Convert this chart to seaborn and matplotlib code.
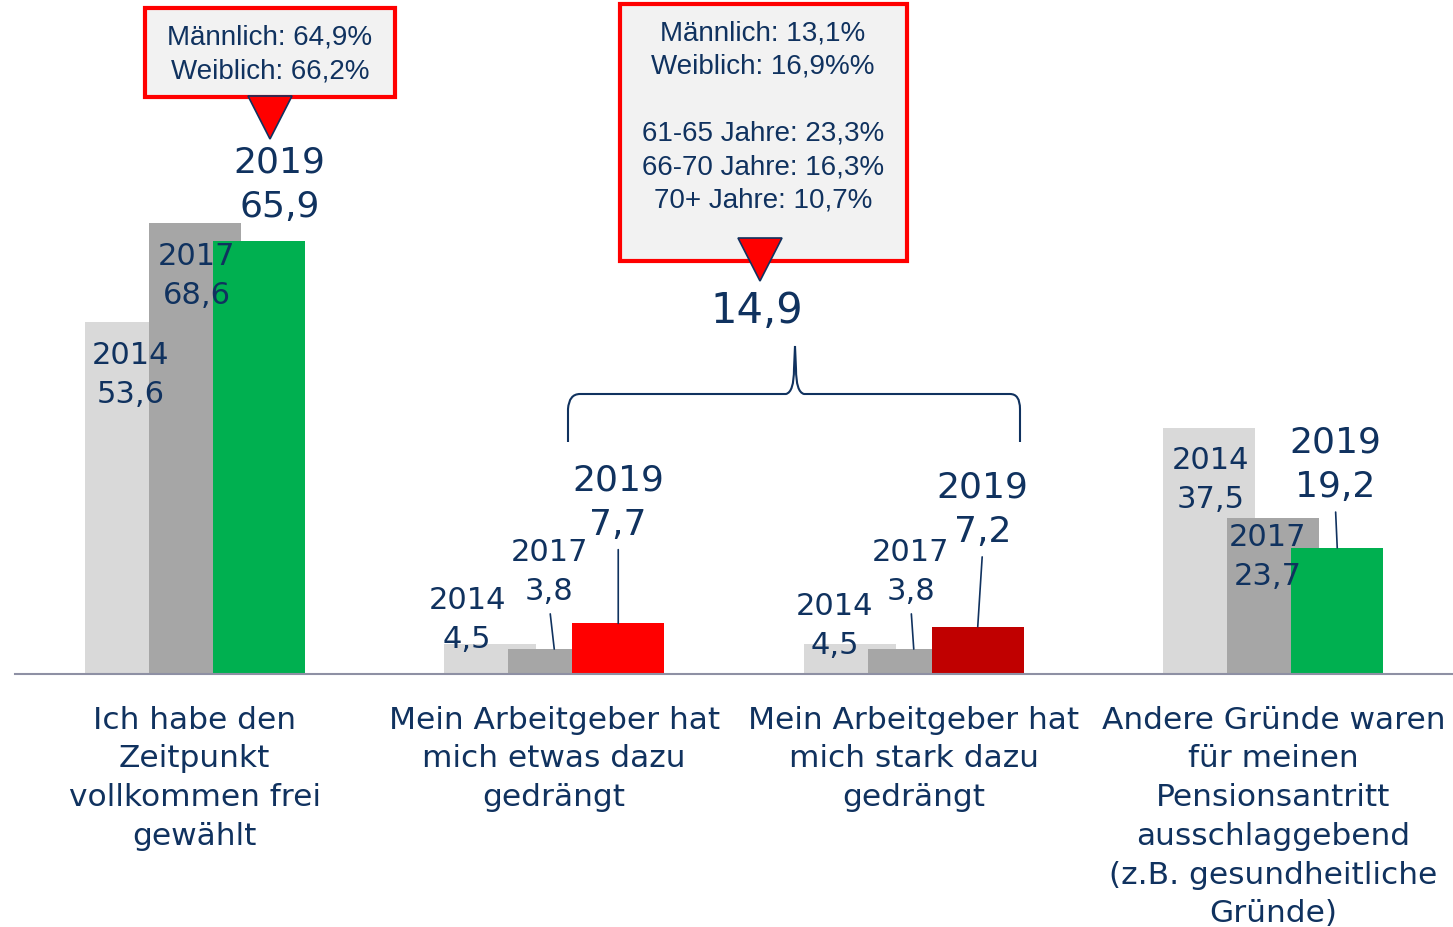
import matplotlib
matplotlib.use("Agg")
import matplotlib.pyplot as plt
import seaborn as sns
import pandas as pd
from matplotlib.patches import Rectangle, Polygon, PathPatch
from matplotlib.path import Path

# data
categories = [
    "Ich habe den\nZeitpunkt\nvollkommen frei\ngewählt",
    "Mein Arbeitgeber hat\nmich etwas dazu\ngedrängt",
    "Mein Arbeitgeber hat\nmich stark dazu\ngedrängt",
    "Andere Gründe waren\nfür meinen\nPensionsantritt\nausschlaggebend\n(z.B. gesundheitliche\nGründe)",
]
years = ["2014", "2017", "2019"]
v2014 = [53.6, 4.5, 4.5, 37.5]
v2017 = [68.6, 3.8, 3.8, 23.7]
v2019 = [65.9, 7.7, 7.2, 19.2]
pushed_total = "14,9"
callout_free = ["Männlich: 64,9%", "Weiblich: 66,2%"]
callout_pushed = ["Männlich: 13,1%", "Weiblich: 16,9%%", "",
                  "61-65 Jahre: 23,3%", "66-70 Jahre: 16,3%", "70+ Jahre: 10,7%"]

# styling
navy = "#10325f"
c2014 = "#d9d9d9"
c2017 = "#a6a6a6"
c2019 = ["#00b050", "#ff0000", "#c00000", "#00b050"]
axis_col = "#8e90a4"
offsets = {"2014": -0.178, "2017": 0.0, "2019": 0.178}
bar_w = 0.256

# label placement (pixel offsets from bar top, + = up) and leader flags
lab_off = {
    "2014": [(0, -52), (-23, 25), (-15, 19), (1, -51)],
    "2017": [(2, -52), (-5, 78), (-3, 78), (-6, -38)],
    "2019": [(21, 57), (0, 122), (5, 118), (-2, 84)],
}
leaders = {"2014": [], "2017": [1, 2], "2019": [1, 2, 3]}

rows = []
for y, vals in zip(years, [v2014, v2017, v2019]):
    for i, v in enumerate(vals):
        rows.append(dict(year=y, cat=categories[i], pos=i + offsets[y], value=v))
df = pd.DataFrame(rows)

sns.set_style("white")
plt.rcParams["font.family"] = ["DejaVu Sans"]

W, H = 1453, 928
fig = plt.figure(figsize=(W / 100, H / 100), dpi=100)
ax = fig.add_axes([15 / W, (H - 675) / H, 1438 / W, 675 / H])

sns.barplot(data=df[df.year == "2014"], x="pos", y="value", native_scale=True,
            width=bar_w, color=c2014, saturation=1, errorbar=None, linewidth=0, ax=ax)
sns.barplot(data=df[df.year == "2017"], x="pos", y="value", native_scale=True,
            width=bar_w, color=c2017, saturation=1, errorbar=None, linewidth=0, ax=ax)
sns.barplot(data=df[df.year == "2019"], x="pos", y="value", native_scale=True,
            width=bar_w, hue="cat", hue_order=categories,
            palette=dict(zip(categories, c2019)), dodge=False, legend=False,
            saturation=1, errorbar=None, linewidth=0, ax=ax)

ax.set_xlim(-0.5, 3.5)
ax.set_ylim(0, 675 / 6.57)
for s in ["top", "right", "left"]:
    ax.spines[s].set_visible(False)
ax.spines["bottom"].set_color(axis_col)
ax.spines["bottom"].set_linewidth(1.5)
ax.set_xticks([-0.5, 0.5, 1.5, 2.5])
ax.tick_params(axis="x", length=8, width=1.2, color=axis_col, labelbottom=False)
ax.set_yticks([])
ax.set_xlabel("")
ax.set_ylabel("")

# value labels
for y, vals in zip(years, [v2014, v2017, v2019]):
    fs = 26 if y == "2019" else 22
    ls = 1.4 if y == "2019" else 1.44
    for i, v in enumerate(vals):
        dx, dy = lab_off[y][i]
        txt = f"{y}\n{str(v).replace('.', ',')}"
        kw = {}
        if i in leaders[y]:
            kw["arrowprops"] = dict(arrowstyle="-", color=navy, lw=1.2,
                                    shrinkA=4, shrinkB=0, relpos=(0.5, 0))
        ax.annotate(txt, xy=(i + offsets[y], v), xytext=(dx * 0.72, dy * 0.72),
                    textcoords="offset points", ha="center", va="center",
                    fontsize=fs, color=navy, linespacing=ls, zorder=5, **kw)

# category labels
for i, c in enumerate(categories):
    ax.annotate(c, xy=(i, 0), xytext=(0, -22), textcoords="offset points",
                ha="center", va="top", fontsize=22.5, color=navy,
                linespacing=1.425, annotation_clip=False)


def P(x, y):
    return (x / W, 1 - y / H)


# callout boxes
def callout(x0, y0, x1, y1, tri, lines, cx, ly0, step):
    fig.add_artist(Rectangle(P(x0, y1), (x1 - x0) / W, (y1 - y0) / H,
                             transform=fig.transFigure, facecolor="#f2f2f2",
                             edgecolor="#ff0000", lw=3, zorder=6))
    fig.add_artist(Polygon([P(*tri[0]), P(*tri[1]), P(*tri[2])], closed=True,
                           transform=fig.transFigure, facecolor="#ff0000",
                           edgecolor=navy, lw=1.2, zorder=7))
    for k, line in enumerate(lines):
        if line:
            fig.text(*P(cx, ly0 + k * step), line, ha="center", va="center",
                     fontsize=20, color=navy, family="Liberation Sans", zorder=8)


callout(145, 9, 395, 98, [(248, 97), (292, 97), (270, 140)], callout_free, 270, 38, 33)
callout(620, 5, 907, 262, [(738, 239), (782, 239), (760, 282)], callout_pushed, 763, 33, 33.6)

# brace over the two "pushed" categories
verts = [(568, 443), (568, 410), (569, 395), (580, 395), (786, 395), (794, 393), (794, 370),
         (795, 347), (796, 370), (796, 393), (804, 395), (1010, 395), (1020, 395),
         (1020, 410), (1020, 443)]
codes = [Path.MOVETO, Path.LINETO, Path.CURVE3, Path.CURVE3, Path.LINETO, Path.CURVE3,
         Path.CURVE3, Path.LINETO, Path.LINETO, Path.CURVE3, Path.CURVE3, Path.LINETO,
         Path.CURVE3, Path.CURVE3, Path.LINETO]
fig.add_artist(PathPatch(Path([P(*v) for v in verts], codes), transform=fig.transFigure,
                         facecolor="none", edgecolor=navy, lw=1.5))
fig.text(*P(757, 311), pushed_total, ha="center", va="center", fontsize=30, color=navy)

fig.savefig("out.png", dpi=100)
